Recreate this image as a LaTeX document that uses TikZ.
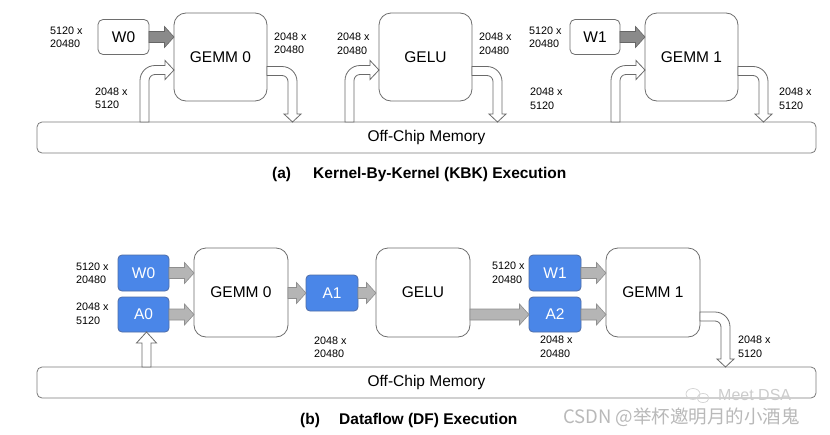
\documentclass[tikz,border=0pt]{standalone}
\usepackage{fontspec}
\setmainfont{Liberation Sans}
\newfontfamily\cjkfont{Noto Sans CJK SC}
\usetikzlibrary{calc}
\definecolor{boxline}{HTML}{6E6E6E}
\definecolor{memline}{HTML}{7A7A7A}
\definecolor{bluefill}{HTML}{4A86E8}
\definecolor{blueline}{HTML}{4F6DA6}
\definecolor{darkarrow}{HTML}{8A8A8A}
\definecolor{darkarrowline}{HTML}{666666}
\definecolor{lightarrow}{HTML}{B5B5B5}
\definecolor{lightarrowline}{HTML}{8E8E8E}
\definecolor{hollowline}{HTML}{6A6A6A}
\newcommand{\boxfont}{\fontsize{15.5}{18}\selectfont}
\newcommand{\lblfont}{\fontsize{10.8}{13.5}\selectfont}
% horizontal block arrow from #2 to #3 (style #1)
\newcommand{\blockarr}[3]{%
  \path[#1] let \p1=(#2), \p2=(#3) in
    (\x1,\y1+5.5pt) -- (\x2-9.5pt,\y1+5.5pt) -- (\x2-9.5pt,\y1+10.5pt) -- (\x2,\y1)
    -- (\x2-9.5pt,\y1-10.5pt) -- (\x2-9.5pt,\y1-5.5pt) -- (\x1,\y1-5.5pt) -- cycle;}
% hollow bent arrow: up from memory #2, then right into box #1
\newcommand{\bentin}[2]{%
  \path[hollow] let \p1=($(#1.west)+(0,13)$), \p2=(#2.north) in
    (\x1-34pt,\y2) -- (\x1-34pt,\y1-10.5pt)
    .. controls (\x1-34pt,\y1-2.2pt) and (\x1-27.3pt,\y1+4.5pt) .. (\x1-19pt,\y1+4.5pt)
    -- (\x1-9pt,\y1+4.5pt) -- (\x1-9pt,\y1+9.5pt) -- (\x1,\y1) -- (\x1-9pt,\y1-9.5pt)
    -- (\x1-9pt,\y1-4.5pt) -- (\x1-19pt,\y1-4.5pt)
    .. controls (\x1-22.3pt,\y1-4.5pt) and (\x1-25pt,\y1-7.2pt) .. (\x1-25pt,\y1-10.5pt)
    -- (\x1-25pt,\y2) -- cycle;}
% hollow bent arrow: right out of box #1 (offset #3), then down into memory #2
\newcommand{\bentout}[3]{%
  \path[hollow] let \p1=($(#1.east)+(0,#3)$), \p2=(#2.north) in
    (\x1,\y1+4.5pt) -- (\x1+15pt,\y1+4.5pt)
    .. controls (\x1+23.3pt,\y1+4.5pt) and (\x1+30pt,\y1-2.2pt) .. (\x1+30pt,\y1-10.5pt)
    -- (\x1+30pt,\y2+8pt) -- (\x1+34pt,\y2+8pt) -- (\x1+25.5pt,\y2) -- (\x1+17pt,\y2+8pt)
    -- (\x1+21pt,\y2+8pt) -- (\x1+21pt,\y1-10.5pt)
    .. controls (\x1+21pt,\y1-7.2pt) and (\x1+18.3pt,\y1-4.5pt) .. (\x1+15pt,\y1-4.5pt)
    -- (\x1,\y1-4.5pt) -- cycle;}
\tikzset{
  bigbox/.style={draw=boxline, line width=0.8pt, fill=white, rounded corners=12pt,
    minimum width=93pt, minimum height=88pt, inner sep=0pt, outer sep=0pt, font=\boxfont},
  wbox/.style={draw=boxline, line width=0.8pt, fill=white, rounded corners=5pt,
    minimum width=51pt, minimum height=35pt, inner sep=0pt, outer sep=0pt, font=\boxfont},
  bluebox/.style={draw=blueline, line width=0.8pt, fill=bluefill, text=white, rounded corners=4pt,
    minimum width=51pt, minimum height=35pt, inner sep=0pt, outer sep=0pt, font=\boxfont},
  membox/.style={draw=memline, line width=0.8pt, fill=white, rounded corners=5pt,
    minimum width=779pt, minimum height=31pt, inner sep=0pt, outer sep=0pt, font=\boxfont},
  lbl/.style={anchor=west, align=left, inner sep=0pt, font=\lblfont},
  darkarr/.style={fill=darkarrow, draw=darkarrowline, line width=0.6pt},
  lightarr/.style={fill=lightarrow, draw=lightarrowline, line width=0.6pt},
  hollow/.style={fill=white, draw=hollowline, line width=0.8pt},
  caption/.style={anchor=west, inner sep=0pt, font=\bfseries\boxfont}
}
\begin{document}
\begin{tikzpicture}[x=1pt,y=-1pt]
\useasboundingbox (0,0) rectangle (830,434);
\fill[white] (0,0) rectangle (830,434);

% ---------------- (a) ----------------
\node[membox] (Mema) at (426.5,137.5) {Off-Chip Memory};
\node[wbox] (W0a) at (123.5,37) {W0};
\node[bigbox] (G0a) at (220.5,57) {GEMM 0};
\node[bigbox] (GELUa) at (425.5,57) {GELU};
\node[wbox, minimum width=50pt] (W1a) at (595,37) {W1};
\node[bigbox] (G1a) at (691.5,57) {GEMM 1};

\blockarr{darkarr}{W0a.east}{G0a.west |- W0a.east}
\blockarr{darkarr}{W1a.east}{G1a.west |- W1a.east}
\bentin{G0a}{Mema}
\bentin{GELUa}{Mema}
\bentin{G1a}{Mema}
\bentout{G0a}{Mema}{14}
\bentout{GELUa}{Mema}{14}
\bentout{G1a}{Mema}{14}

\node[lbl] (la1) at (50,37.5) {5120 x\\20480};
\node[lbl] (la2) at (95,98.5) {2048 x\\5120};
\node[lbl] (la3) at (274,43.5) {2048 x\\20480};
\node[lbl] (la4) at (337,44) {2048 x\\20480};
\node[lbl] (la5) at (479,44) {2048 x\\20480};
\node[lbl] (la6) at (529,37.5) {5120 x\\20480};
\node[lbl] (la7) at (530,99) {2048 x\\5120};
\node[lbl] (la8) at (779,99) {2048 x\\5120};

\node[caption] (capa1) at (272,174) {(a)};
\node[caption] (capa2) at (313,174) {Kernel-By-Kernel (KBK) Execution};

% ---------------- (b) ----------------
\node[membox] (Memb) at (426.5,382.5) {Off-Chip Memory};
\node[bluebox, minimum height=36pt] (W0b) at (143.5,273) {W0};
\node[bluebox] (A0b) at (143.5,314.5) {A0};
\node[bigbox, minimum width=94pt, minimum height=89pt] (G0b) at (241,292.5) {GEMM 0};
\node[bluebox, minimum width=52pt, minimum height=36pt] (A1b) at (332,293) {A1};
\node[bigbox, minimum width=94pt, minimum height=89pt] (GELUb) at (423,292.5) {GELU};
\node[bluebox, minimum width=52pt, minimum height=36pt] (W1b) at (555,273) {W1};
\node[bluebox, minimum width=52pt] (A2b) at (555,314.5) {A2};
\node[bigbox, minimum width=94pt, minimum height=89pt] (G1b) at (653,292.5) {GEMM 1};

\blockarr{lightarr}{W0b.east}{G0b.west |- W0b.east}
\blockarr{lightarr}{A0b.east}{G0b.west |- A0b.east}
\blockarr{lightarr}{G0b.east |- A1b.west}{A1b.west}
\blockarr{lightarr}{A1b.east}{GELUb.west |- A1b.east}
\blockarr{lightarr}{GELUb.east |- A2b.west}{A2b.west}
\blockarr{lightarr}{W1b.east}{G1b.west |- W1b.east}
\blockarr{lightarr}{A2b.east}{G1b.west |- A2b.east}
\path[hollow] let \p1=($(A0b.south)+(3,0)$), \p2=(Memb.north) in
  (\x1-4.5pt,\y2) -- (\x1-4.5pt,\y1-11pt) -- (\x1-10pt,\y1-11pt) -- (\x1,\y1)
  -- (\x1+10pt,\y1-11pt) -- (\x1+4.5pt,\y1-11pt) -- (\x1+4.5pt,\y2) -- cycle;
\bentout{G1b}{Memb}{24}

\node[lbl] (lb1) at (76,273.5) {5120 x\\20480};
\node[lbl] (lb2) at (76,314) {2048 x\\5120};
\node[lbl] (lb3) at (314,347.5) {2048 x\\20480};
\node[lbl] (lb4) at (492,273) {5120 x\\20480};
\node[lbl] (lb5) at (540,347) {2048 x\\20480};
\node[lbl] (lb6) at (738,347) {2048 x\\5120};

\node[caption] (capb1) at (300,420) {(b)};
\node[caption] (capb2) at (339,420) {Dataflow (DF) Execution};

% ---------------- watermark ----------------
\draw[gray!35, line width=0.7pt] (693,394) ellipse [x radius=7pt, y radius=5.5pt];
\draw[gray!35, line width=0.7pt] (703,398) ellipse [x radius=6pt, y radius=4.5pt];
\node[anchor=west, inner sep=0pt, text=gray!40, font=\fontsize{16}{18}\selectfont] (wm1) at (718,395) {Meet DSA};
\node[anchor=west, inner sep=0pt, text=gray!55, font=\cjkfont\fontsize{18.5}{20}\selectfont] (wm2) at (563,417) {CSDN @举杯邀明月的小酒鬼};
\end{tikzpicture}
\end{document}
